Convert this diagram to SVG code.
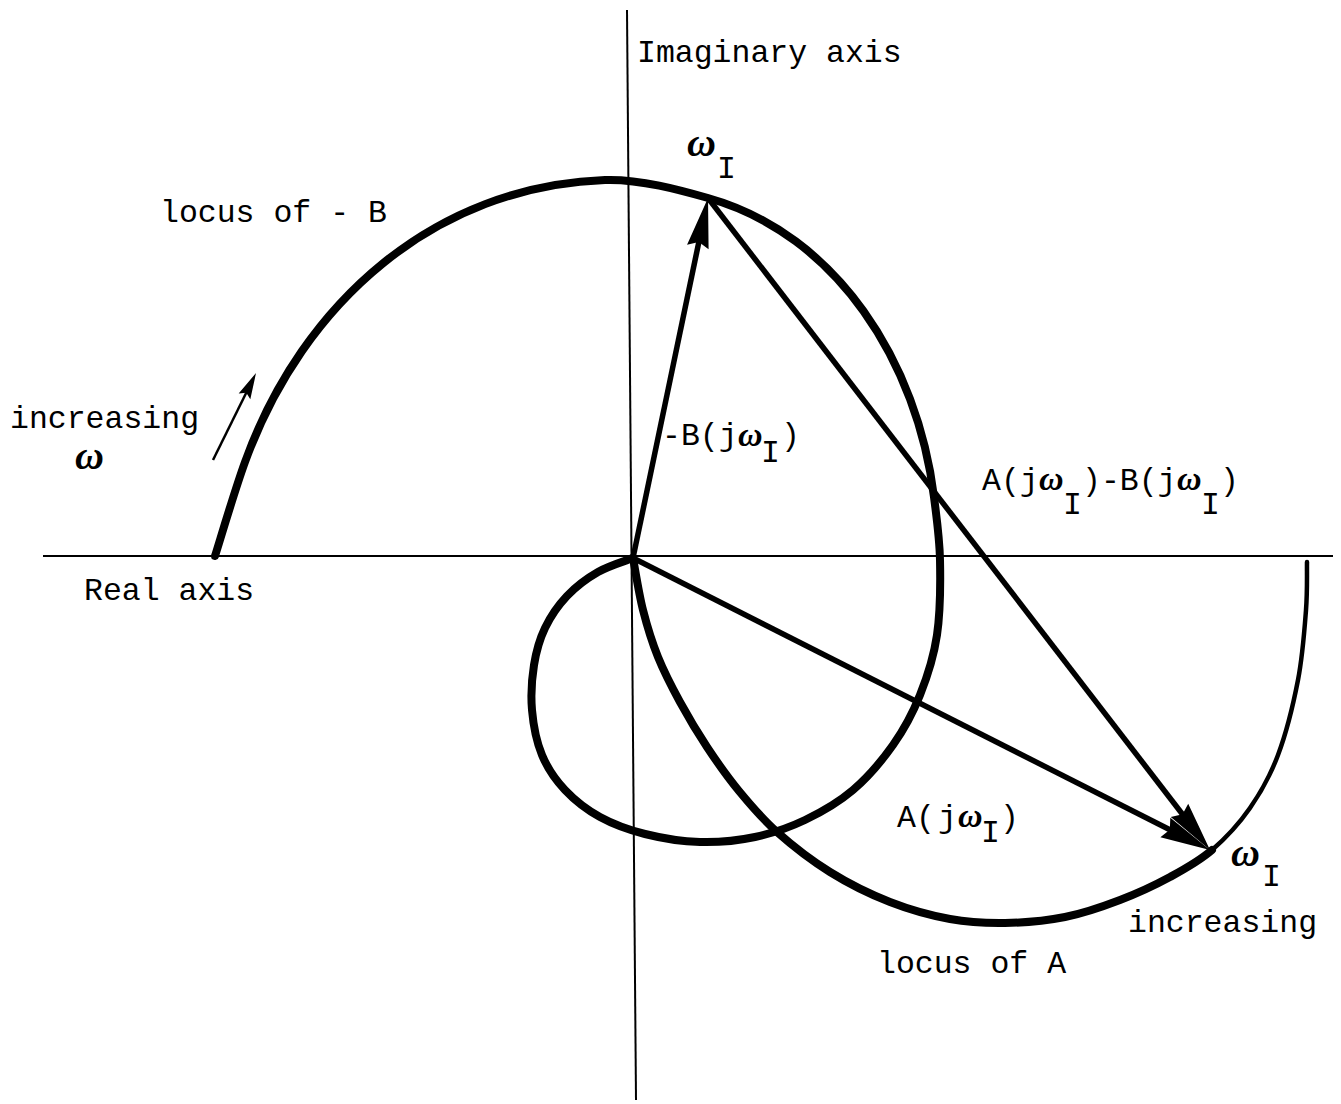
<svg xmlns="http://www.w3.org/2000/svg" width="1341" height="1104" viewBox="0 0 1341 1104">
<style>
  .t { font-family: "Liberation Mono", "DejaVu Sans Mono", monospace; font-size: 31.5px; fill: #000; }
  .w { font-family: "Liberation Serif", "DejaVu Serif", serif; font-style: italic; font-weight: bold; fill: #000; }
  .axis { stroke: #000; stroke-width: 2; fill: none; }
  .locus { stroke: #000; stroke-width: 8; fill: none; stroke-linecap: round; stroke-linejoin: round; }
  .thin { stroke-width: 4.5; }
  .vec { stroke: #000; stroke-width: 5.5; fill: none; }
</style>
<defs>
  <marker id="ah" markerUnits="userSpaceOnUse" markerWidth="60" markerHeight="30" viewBox="-25 -15 60 30" refX="0" refY="0" orient="auto">
    <path d="M30,0 L-20,-11 L-15,0 L-20,11 Z" fill="#000"/>
  </marker>
  <marker id="ahs" markerUnits="userSpaceOnUse" markerWidth="32" markerHeight="16" viewBox="-16 -8 32 16" refX="0" refY="0" orient="auto">
    <path d="M12,0 L-14,-6.5 L-10,0 L-14,6.5 Z" fill="#000"/>
  </marker>
</defs>

<g id="axes">
  <line class="axis" x1="627" y1="10" x2="636" y2="1100"/>
  <line class="axis" x1="43" y1="556" x2="1333" y2="556"/>
</g>

<g id="locus-B">
  <path class="locus" d="M215,556 C220,540.3 234.2,491.8 245,462 C302.8,302.2 435,186 605,180 C639.7,178.8 680.5,190.2 708,198 C837.6,234.5 917.8,363.4 934,497 C936.5,517 939.5,537 940,560 C940.5,583 940.3,612.5 937,635 C933.7,657.5 927.3,676.7 920,695 C912.7,713.3 904.2,729.2 893,745 C881.8,760.8 867.7,777.5 853,790 C838.3,802.5 821.3,812.2 805,820 C788.7,827.8 772.5,833.3 755,837 C737.5,840.7 718.3,842.5 700,842 C681.7,841.5 661.7,838.2 645,834 C628.3,829.8 613.3,824.3 600,817 C586.7,809.7 574.7,800.3 565,790 C555.3,779.7 547.5,768.3 542,755 C536.5,741.7 533.3,725 532,710 C530.7,695 531.8,678.7 534,665 C536.2,651.3 539.5,639.5 545,628 C550.5,616.5 558.2,605.3 567,596 C575.8,586.7 587,578.3 598,572 C609,565.7 627.2,560.3 633,558"/>
</g>

<g id="locus-A">
  <path class="locus" d="M633,558 C634.7,566.7 638.8,593.5 643,610 C647.2,626.5 651.8,641.7 658,657 C664.2,672.3 671.8,687 680,702 C688.2,717 697.2,732.2 707,747 C716.8,761.8 727.3,776.8 739,791 C750.7,805.2 761.8,818.5 777,832 C792.2,845.5 811.2,860.3 830,872 C848.8,883.7 870,894.2 890,902 C910,909.8 930.8,915.5 950,919 C969.2,922.5 985.8,923.3 1005,923 C1024.2,922.7 1045.8,920.8 1065,917 C1084.2,913.2 1102.5,906.7 1120,900 C1137.5,893.3 1154.7,885.3 1170,877 C1185.3,868.7 1198.7,861.5 1212,850"/>
  <path class="locus thin" d="M1212,850 C1225.3,838.5 1239,823.8 1250,808 C1261,792.2 1270,776.3 1278,755 C1286,733.7 1293.3,704.2 1298,680 C1302.7,655.8 1304.5,629.7 1306,610 C1307.5,590.3 1306.8,570 1307,562"/>
</g>

<g id="connectors">
  <line id="vec-minusB" class="vec" x1="633" y1="558" x2="701.9" y2="227.4" marker-end="url(#ah)"/>
  <line id="vec-A" class="vec" x1="633" y1="558" x2="1183.2" y2="836.5" marker-end="url(#ah)"/>
  <line id="vec-AminusB" class="vec" x1="708" y1="198" x2="1191.7" y2="826.2" marker-end="url(#ah)"/>
  <line id="arrow-increasing" stroke="#000" stroke-width="2.5" x1="213" y1="460" x2="250.7" y2="383.8" marker-end="url(#ahs)"/>
</g>

<g id="labels">
  <text class="t" x="637" y="62">Imaginary axis</text>
  <text class="t" x="160" y="222">locus of - B</text>
  <text class="t" x="10" y="428">increasing</text>
  <text class="w" x="75" y="469" font-size="40">ω</text>
  <text class="t" x="84" y="600">Real axis</text>

  <g id="label-wI-top">
    <text class="w" x="687" y="156" font-size="40">ω</text>
    <text class="t" x="717" y="178">I</text>
  </g>

  <g id="label-minusB">
    <text class="t" x="662" y="445">-B(j</text>
    <text class="w" x="738" y="446" font-size="34">ω</text>
    <text class="t" x="761" y="462">I</text>
    <text class="t" x="781" y="445">)</text>
  </g>

  <g id="label-AminusB">
    <text class="t" x="982" y="490">A(j</text>
    <text class="w" x="1039" y="490" font-size="34">ω</text>
    <text class="t" x="1063" y="514">I</text>
    <text class="t" x="1082" y="490">)-B(j</text>
    <text class="w" x="1177" y="490" font-size="34">ω</text>
    <text class="t" x="1201" y="514">I</text>
    <text class="t" x="1220" y="490">)</text>
  </g>

  <g id="label-A">
    <text class="t" x="897" y="827">A(</text>
    <text class="t" x="938" y="827">j</text>
    <text class="w" x="958" y="827" font-size="34">ω</text>
    <text class="t" x="981" y="842">I</text>
    <text class="t" x="1000" y="827">)</text>
  </g>

  <g id="label-wI-bottom">
    <text class="w" x="1231" y="866" font-size="40">ω</text>
    <text class="t" x="1262" y="886">I</text>
  </g>
  <text class="t" x="1128" y="932">increasing</text>
  <text class="t" x="877" y="973">locus of A</text>
</g>
</svg>
